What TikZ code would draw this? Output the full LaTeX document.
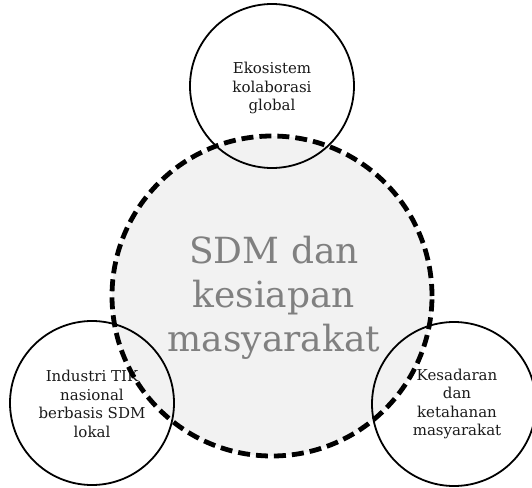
\documentclass[tikz,border=0pt]{standalone}
\usepackage{fontspec}
\setmainfont{DejaVu Serif}
\definecolor{bigfill}{HTML}{F2F2F2}
\definecolor{bigtext}{HTML}{808080}
\definecolor{smalltext}{HTML}{1A1A1A}
\begin{document}
\begin{tikzpicture}[x=1pt,y=-1pt,
  smallcirc/.style={circle,draw=black,line width=1.8pt,minimum size=164pt,inner sep=0pt},
  smalllabel/.style={align=center,text=smalltext,font=\fontsize{15}{18.5}\selectfont},
  bigcirc/.style={circle,minimum size=320pt,inner sep=0pt},
  biglabel/.style={align=center,text=bigtext,font=\fontsize{36}{44}\selectfont}]
\useasboundingbox (0,0) rectangle (532,487);
\node[bigcirc,fill=bigfill] (big) at (272,296) {};
\node[smallcirc] (top) at (272,86) {};
\node[smallcirc] (bl) at (92,403) {};
\node[smallcirc] (br) at (454,404) {};
\node[biglabel] (bigt) at (274,298) {SDM dan\\kesiapan\\masyarakat};
\node[smalllabel] (topt) at (272,88) {Ekosistem\\kolaborasi\\global};
\node[smalllabel] (blt) at (92,404) {Industri TIK\\nasional\\berbasis SDM\\lokal};
\node[smalllabel] (brt) at (457,404) {Kesadaran\\dan\\ketahanan\\masyarakat};
\node[bigcirc,draw=black,line width=4.8pt,dash pattern=on 12pt off 6pt] (bigo) at (272,296) {};
\end{tikzpicture}
\end{document}
